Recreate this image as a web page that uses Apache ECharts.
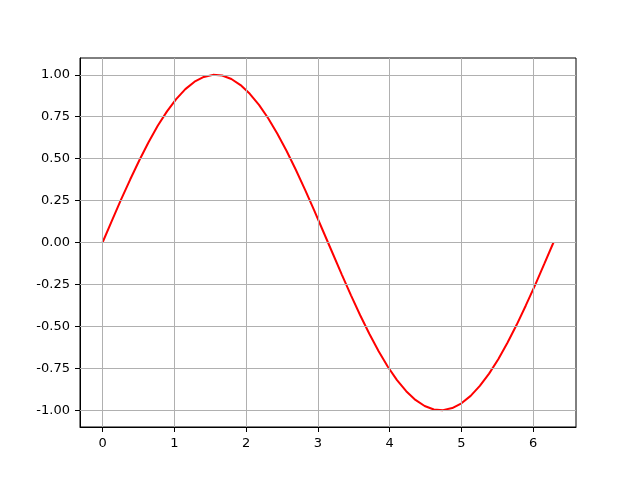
<!DOCTYPE html>
<html>
<head>
<meta charset="utf-8">
<script src="https://cdn.jsdelivr.net/npm/echarts@6/dist/echarts.min.js"></script>
<style>html,body{margin:0;padding:0;background:#fff;}#c{width:640px;height:480px;}</style>
</head>
<body>
<div id="c"></div>
<script>
var xValues = [0, 0.128, 0.256, 0.385, 0.513, 0.641, 0.769, 0.898, 1.026, 1.154,
  1.282, 1.411, 1.539, 1.667, 1.795, 1.923, 2.052, 2.180, 2.308, 2.436,
  2.565, 2.693, 2.821, 2.949, 3.077, 3.206, 3.334, 3.462, 3.590, 3.719,
  3.847, 3.975, 4.103, 4.231, 4.360, 4.488, 4.616, 4.744, 4.873, 5.001,
  5.129, 5.257, 5.386, 5.514, 5.642, 5.770, 5.898, 6.027, 6.155, 6.283];
var yValues = [0, 0.1279, 0.2537, 0.3753, 0.4907, 0.5981, 0.6959, 0.7818, 0.8549, 0.9144,
  0.9587, 0.9872, 0.9995, 0.9954, 0.9749, 0.9385, 0.8866, 0.8204, 0.7409, 0.6482,
  0.5455, 0.4339, 0.3151, 0.1912, 0.0641, -0.0641, -0.1912, -0.3151, -0.4339, -0.5455,
  -0.6482, -0.7409, -0.8204, -0.8866, -0.9385, -0.9749, -0.9954, -0.9995, -0.9872, -0.9587,
  -0.9144, -0.8549, -0.7818, -0.6959, -0.5981, -0.4907, -0.3753, -0.2537, -0.1279, 0];
var xTicks = [0, 1, 2, 3, 4, 5, 6];
var yTicks = [-1.0, -0.75, -0.5, -0.25, 0, 0.25, 0.5, 0.75, 1.0];

var data = xValues.map(function (x, i) { return [x, yValues[i]]; });
var font = 'DejaVu Sans';
var chart = echarts.init(document.getElementById('c'), null, {renderer: 'canvas'});
chart.setOption({
  animation: false,
  backgroundColor: '#fff',
  grid: {left: 80, right: 64, top: 58, bottom: 53, show: true, borderColor: '#000', borderWidth: 1, containLabel: false},
  xAxis: {
    type: 'value', min: -0.314, max: 6.597,
    axisLine: {show: true, onZero: false, lineStyle: {color: '#000', width: 1}},
    axisTick: {show: true, length: 5, lineStyle: {color: '#000'}, customValues: xTicks},
    axisLabel: {color: '#000', fontFamily: font, fontSize: 13, margin: 10, customValues: xTicks,
      formatter: function (v) { return String(v); }},
    splitLine: {show: false}
  },
  yAxis: {
    type: 'value', min: -1.1, max: 1.1,
    axisLine: {show: true, onZero: false, lineStyle: {color: '#000', width: 1}},
    axisTick: {show: true, length: 5, lineStyle: {color: '#000'}, customValues: yTicks},
    axisLabel: {color: '#000', fontFamily: font, fontSize: 13, margin: 10, customValues: yTicks,
      formatter: function (v) { return v.toFixed(2); }},
    splitLine: {show: false}
  },
  series: [
    {
      type: 'line', data: data, showSymbol: false, symbol: 'none',
      lineStyle: {color: '#ff0000', width: 2}, z: 3,
      markLine: {
        silent: true, symbol: 'none', label: {show: false},
        lineStyle: {color: '#b0b0b0', width: 1, type: 'solid'},
        data: xTicks.map(function (t) { return {xAxis: t}; }).concat(
              yTicks.map(function (t) { return {yAxis: t}; }))
      }
    }
  ]
});
</script>
</body>
</html>
